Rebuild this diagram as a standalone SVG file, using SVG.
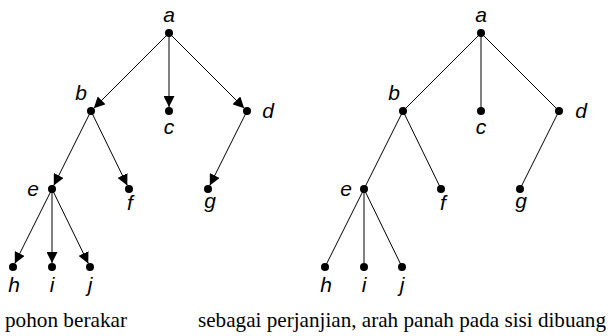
<svg xmlns="http://www.w3.org/2000/svg" width="609" height="336" viewBox="0 0 609 336">
<style>
.e{stroke:#000;stroke-width:1;fill:none}
.a{marker-end:url(#ah)}
.n{fill:#000}
.l{font-family:'Liberation Sans',Arial,sans-serif;font-style:italic;font-size:21px;text-anchor:middle;fill:#000}
.cap{font-family:'Liberation Serif','Times New Roman',serif;font-size:21px;fill:#000}
</style>
<defs>
<marker id="ah" markerUnits="userSpaceOnUse" markerWidth="11" markerHeight="11" refX="10" refY="5" orient="auto" viewBox="0 0 10 10">
<path d="M0,0 L10,5 L0,10 z" fill="#000"/>
</marker>
</defs>
<rect width="609" height="336" fill="#fff"/>
<g id="connectors">
<line class="e a" x1="169" y1="33" x2="93.8" y2="108.2"/>
<line class="e a" x1="169" y1="33" x2="169" y2="107"/>
<line class="e a" x1="169" y1="33" x2="244.2" y2="108.2"/>
<line class="e a" x1="91" y1="111" x2="53.8" y2="185.4"/>
<line class="e a" x1="91" y1="111" x2="127.3" y2="185.4"/>
<line class="e a" x1="247" y1="111" x2="209.8" y2="185.4"/>
<line class="e a" x1="52" y1="189" x2="14.8" y2="263.4"/>
<line class="e a" x1="52" y1="189" x2="52" y2="263"/>
<line class="e a" x1="52" y1="189" x2="88.3" y2="263.4"/>
<line class="e" x1="481" y1="33" x2="403" y2="111"/>
<line class="e" x1="481" y1="33" x2="481" y2="111"/>
<line class="e" x1="481" y1="33" x2="559" y2="111"/>
<line class="e" x1="403" y1="111" x2="364" y2="189"/>
<line class="e" x1="403" y1="111" x2="441" y2="189"/>
<line class="e" x1="559" y1="111" x2="520" y2="189"/>
<line class="e" x1="364" y1="189" x2="325" y2="267"/>
<line class="e" x1="364" y1="189" x2="364" y2="267"/>
<line class="e" x1="364" y1="189" x2="402" y2="267"/>
</g>
<g id="L-a"><circle class="n" cx="169" cy="33" r="4"/><text class="l" x="169" y="22">a</text></g>
<g id="L-b"><circle class="n" cx="91" cy="111" r="4"/><text class="l" x="81" y="100">b</text></g>
<g id="L-c"><circle class="n" cx="169" cy="111" r="4"/><text class="l" x="169" y="134">c</text></g>
<g id="L-d"><circle class="n" cx="247" cy="111" r="4"/><text class="l" x="268" y="118">d</text></g>
<g id="L-e"><circle class="n" cx="52" cy="189" r="4"/><text class="l" x="33" y="196">e</text></g>
<g id="L-f"><circle class="n" cx="129" cy="189" r="4"/><text class="l" x="130" y="210">f</text></g>
<g id="L-g"><circle class="n" cx="208" cy="189" r="4"/><text class="l" x="210" y="208">g</text></g>
<g id="L-h"><circle class="n" cx="13" cy="267" r="4"/><text class="l" x="14" y="292">h</text></g>
<g id="L-i"><circle class="n" cx="52" cy="267" r="4"/><text class="l" x="52" y="292">i</text></g>
<g id="L-j"><circle class="n" cx="90" cy="267" r="4"/><text class="l" x="90" y="292">j</text></g>
<g id="R-a"><circle class="n" cx="481" cy="33" r="4"/><text class="l" x="481" y="22">a</text></g>
<g id="R-b"><circle class="n" cx="403" cy="111" r="4"/><text class="l" x="394" y="100">b</text></g>
<g id="R-c"><circle class="n" cx="481" cy="111" r="4"/><text class="l" x="481" y="134">c</text></g>
<g id="R-d"><circle class="n" cx="559" cy="111" r="4"/><text class="l" x="581" y="118">d</text></g>
<g id="R-e"><circle class="n" cx="364" cy="189" r="4"/><text class="l" x="346" y="196">e</text></g>
<g id="R-f"><circle class="n" cx="441" cy="189" r="4"/><text class="l" x="443" y="210">f</text></g>
<g id="R-g"><circle class="n" cx="520" cy="189" r="4"/><text class="l" x="521" y="208">g</text></g>
<g id="R-h"><circle class="n" cx="325" cy="267" r="4"/><text class="l" x="326" y="292">h</text></g>
<g id="R-i"><circle class="n" cx="364" cy="267" r="4"/><text class="l" x="364" y="292">i</text></g>
<g id="R-j"><circle class="n" cx="402" cy="267" r="4"/><text class="l" x="402" y="292">j</text></g>
<text class="cap" x="5" y="327" textLength="122" lengthAdjust="spacingAndGlyphs">pohon berakar</text>
<text class="cap" x="198" y="327" textLength="408" lengthAdjust="spacingAndGlyphs">sebagai perjanjian, arah panah pada sisi dibuang</text>
</svg>
